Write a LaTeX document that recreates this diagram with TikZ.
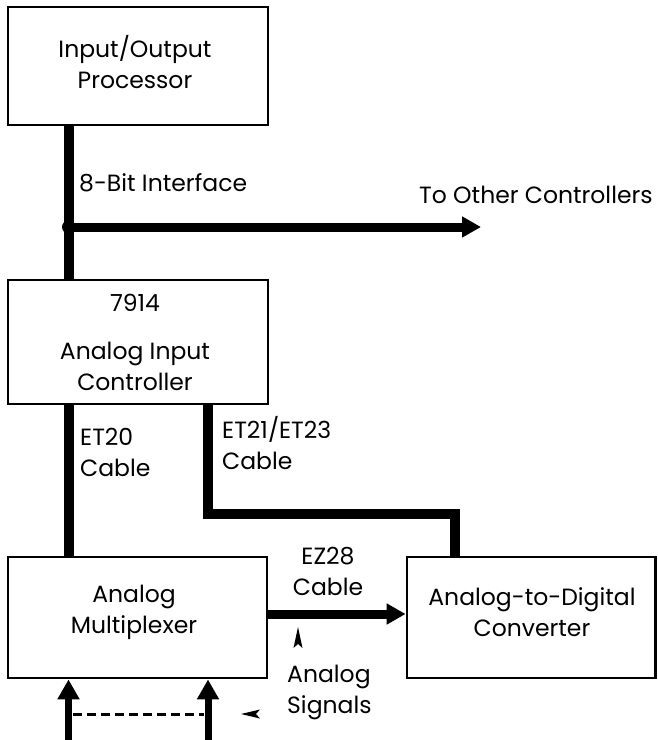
\documentclass[tikz,border=0pt]{standalone}
\usepackage{fontspec}
\setmainfont{Poppins}
\usetikzlibrary{arrows.meta}
\begin{document}
\begin{tikzpicture}[x=1pt,y=-1pt,
  box/.style={draw,line width=2.8pt,rectangle,inner sep=0pt},
  lbl/.style={inner sep=0pt,font=\fontsize{23.5}{31}\selectfont},
  cable/.style={line width=10pt},
  cablearrow/.style={line width=9pt,-{Triangle[length=19pt,width=20pt]}},
  inarrow/.style={line width=7pt,-{Triangle[length=20pt,width=21pt]}},
  bus/.style={line width=3pt,dash pattern=on 9pt off 5pt}
]
\useasboundingbox[fill=white] (0,0) rectangle (657,740);

% boxes
\node[box,minimum width=260pt,minimum height=118pt] (iop) at (138,66) {};
\node[box,minimum width=260pt,minimum height=124pt] (aic) at (138,342) {};
\node[box,minimum width=259pt,minimum height=121pt] (mux) at (137.5,617.5) {};
\node[box,minimum width=248.5pt,minimum height=121pt] (adc) at (531.25,617.5) {};

% box texts
\node[lbl,align=center] (iopt) at (135,62.5) {Input/Output\\Processor};
\node[lbl] (aicn) at (135,303) {7914};
\node[lbl,align=center] (aict) at (135,366) {Analog Input\\Controller};
\node[lbl,align=center] (muxt) at (134,612.5) {Analog\\Multiplexer};
\node[lbl,align=center] (adct) at (532,612.5) {Analog-to-Digital\\Converter};

% coordinates
\coordinate (xa) at (68.5,0);
\coordinate (x21) at (208,0);
\coordinate (junc) at (68.5,227);
\coordinate (other) at (481,227);
\coordinate (bend) at (455,514);
\coordinate (ez) at (0,614);
\coordinate (bot) at (0,748);
\coordinate (sa) at (298,627);
\coordinate (sb) at (241,714);

% bus from IOP to controller
\draw[cable] (xa |- iop.south) -- (xa |- aic.north);
\draw[cablearrow] (junc) -- (other);
\fill (junc) circle[radius=6.5pt];

% cables
\draw[cable] (xa |- aic.south) -- (xa |- mux.north);
\draw[cable] (x21 |- aic.south) |- (bend) -- (bend |- adc.north);
\draw[cablearrow] (mux.east |- ez) -- (adc.west |- ez);

% analog inputs
\draw[inarrow] (xa |- bot) -- (xa |- mux.south);
\draw[inarrow] (x21 |- bot) -- (x21 |- mux.south);
\draw[bus] (73,714) -- (204,714);

% small pointers
\fill (sa) -- ++(4.5,21) -- ++(-4.5,-4) -- ++(-4.5,4) -- cycle;
\fill (sb) -- ++(19,4.5) -- ++(-4,-4.5) -- ++(4,-4.5) -- cycle;

% labels
\node[lbl,anchor=west] (bit8) at (79,183) {8-Bit Interface};
\node[lbl,anchor=west] (toc) at (419,195) {To Other Controllers};
\node[lbl,anchor=west,align=left] (et20) at (80,452.5) {ET20\\Cable};
\node[lbl,anchor=west,align=left] (et21) at (222,443.5) {ET21/ET23\\Cable};
\node[lbl,align=center] (ez28) at (328,571.5) {EZ28\\Cable};
\node[lbl,anchor=west,align=left] (sig) at (287,692) {Analog\\Signals};
\end{tikzpicture}
\end{document}
